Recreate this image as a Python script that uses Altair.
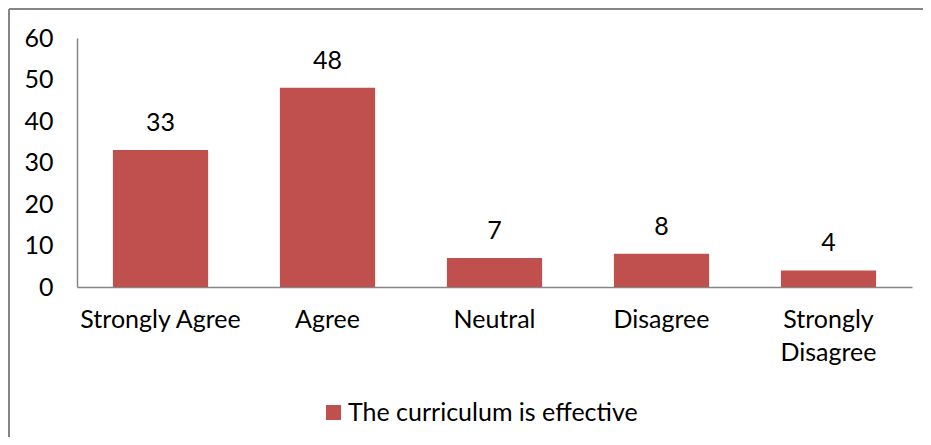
import altair as alt
import pandas as pd

categories = ["Strongly Agree", "Agree", "Neutral", "Disagree", "Strongly Disagree"]
values = [33, 48, 7, 8, 4]
series_name = "The curriculum is effective"

df = pd.DataFrame({"category": categories, "value": values, "series": [series_name] * len(categories)})

FONT = "Lato"
FS = 25
BAR = "#C0504D"
GREY = "#868686"

W, H = 835, 249
PAD = {"left": 69, "top": 30, "right": 11, "bottom": 150}

base = alt.Chart(df)

bars = base.mark_bar(color=BAR).encode(
    x=alt.X("category:N", sort=categories, title=None,
            scale=alt.Scale(paddingInner=0.43, paddingOuter=0.215),
            axis=alt.Axis(labelAngle=0, ticks=False, domainColor=GREY, domainWidth=1.5,
                          labelFont=FONT, labelFontSize=FS, labelColor="#000000",
                          labelBaseline="top", labelPadding=20, labelLineHeight=33, labelLimit=400,
                          labelExpr="datum.value == 'Strongly Disagree' ? ['Strongly', 'Disagree'] : datum.value")),
    y=alt.Y("value:Q", title=None, scale=alt.Scale(domain=[0, 60], nice=False),
            axis=alt.Axis(values=[0, 10, 20, 30, 40, 50, 60], grid=False, ticks=False,
                          domainColor=GREY, domainWidth=1.5, labelFont=FONT, labelFontSize=FS,
                          labelColor="#000000", labelPadding=24)),
    color=alt.Color("series:N", scale=alt.Scale(domain=[series_name], range=[BAR]),
                    legend=alt.Legend(title=None, orient="none", legendX=244, legendY=362,
                                      symbolType="square", symbolSize=225, symbolStrokeWidth=0,
                                      labelFont=FONT, labelFontSize=FS, labelColor="#000000",
                                      labelOffset=2, padding=0, labelLimit=600)),
)

labels = base.mark_text(font=FONT, fontSize=FS, baseline="alphabetic", dy=-19, color="#000000").encode(
    x=alt.X("category:N", sort=categories),
    y=alt.Y("value:Q"),
    text=alt.Text("value:Q"),
)

right_edge = W + PAD["right"]
bottom_edge = H + PAD["bottom"]
frame_top = base.mark_rule(stroke=GREY, strokeWidth=1.5, clip=False).encode(
    x=alt.value(-68), x2=alt.value(right_edge), y=alt.value(-29)
)
frame_left = base.mark_rule(stroke=GREY, strokeWidth=1.5, clip=False).encode(
    x=alt.value(-68), y=alt.value(-29), y2=alt.value(bottom_edge)
)

chart = alt.layer(frame_top, frame_left, bars, labels).properties(
    width=W, height=H,
    background="#ffffff",
    autosize=alt.AutoSizeParams(type="none"),
    padding=PAD,
).configure_view(strokeWidth=0, stroke=None)

chart.save("out.html", embed_options={"renderer": "svg", "actions": False})
